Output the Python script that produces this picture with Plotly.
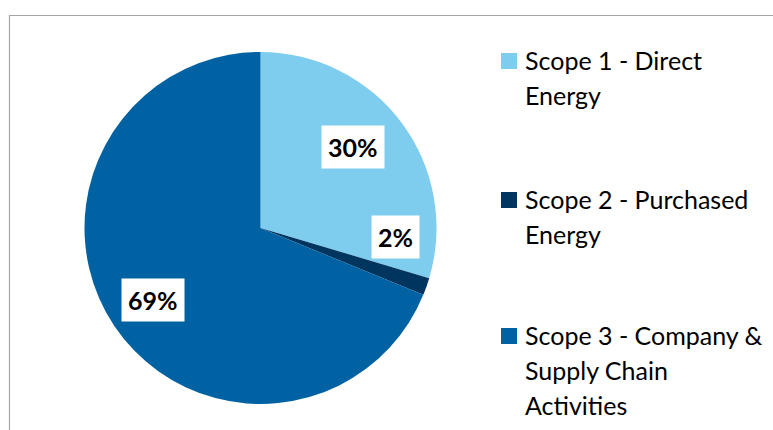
import math
import textwrap
import plotly.graph_objects as go

categories = ["Scope 1 - Direct Energy", "Scope 2 - Purchased Energy",
              "Scope 3 - Company & Supply Chain Activities"]
values = [29.6, 1.6, 68.8]
colors = ["#7ECDEE", "#00355F", "#0062A3"]

W, H = 773, 430
cx, cy, R = 260.5, 228, 176  # pie centre / radius in px

# label placement (style): angle from 12 o'clock clockwise, radius fraction
label_angle = [49, 94, 236]
label_rfrac = [0.70, 0.77, 0.735]

fig = go.Figure(go.Pie(
    labels=categories, values=values, sort=False, direction="clockwise",
    rotation=0, marker=dict(colors=colors, line=dict(width=0)),
    textinfo="none", hoverinfo="label+percent", showlegend=False,
    domain=dict(x=[(cx - R) / W, (cx + R) / W], y=[(H - cy - R) / H, (H - cy + R) / H]),
))

total = sum(values)
annotations = []
for v, a, rf in zip(values, label_angle, label_rfrac):
    t = math.radians(a)
    px = cx + rf * R * math.sin(t)
    py = cy - rf * R * math.cos(t)
    annotations.append(dict(
        x=px / W, y=1 - py / H, xref="paper", yref="paper", showarrow=False,
        text=f"<b>{round(v / total * 100)}%</b>", bgcolor="white", borderpad=6,
        font=dict(family="Lato", size=25, color="black"),
        xanchor="center", yanchor="middle"))

# manual legend
shapes = [dict(type="rect", xref="paper", yref="paper", x0=9.5 / W, x1=1.02,
               y0=-0.02, y1=1 - 15.5 / H, line=dict(color="#A6A6A6", width=1.2),
               fillcolor="rgba(0,0,0,0)", layer="below")]
item_top = [53, 192, 328]
line_gap = 35
for cat, col, top in zip(categories, colors, item_top):
    shapes.append(dict(type="rect", xref="paper", yref="paper",
                       x0=501 / W, x1=517 / W, y0=1 - (top + 16) / H, y1=1 - top / H,
                       fillcolor=col, line=dict(width=0)))
    for i, line in enumerate(textwrap.wrap(cat, 19)):
        yc = top + 8 + i * line_gap - 1.5
        annotations.append(dict(
            x=523 / W, y=1 - yc / H, xref="paper", yref="paper", showarrow=False,
            text=line, xanchor="left", yanchor="middle", align="left",
            font=dict(family="Lato", size=25, color="black")))

fig.update_layout(width=W, height=H, margin=dict(l=0, r=0, t=0, b=0),
                  paper_bgcolor="white", plot_bgcolor="white",
                  annotations=annotations, shapes=shapes)
fig.write_html("out.html", config={"displayModeBar": False},
               post_script="document.body.style.margin='0';document.body.style.overflow='hidden';")
